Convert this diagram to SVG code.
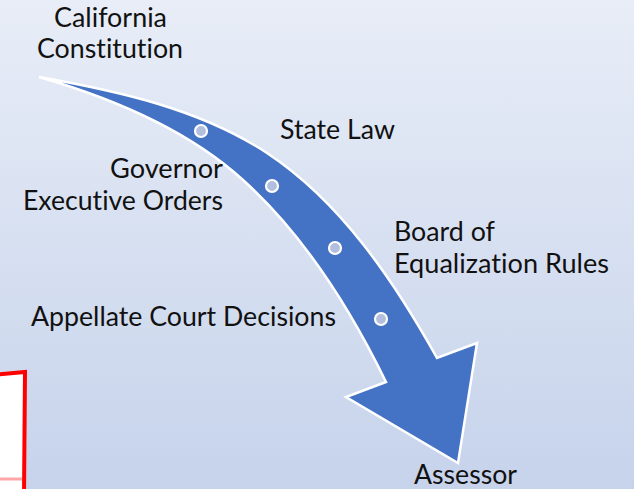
<svg xmlns="http://www.w3.org/2000/svg" width="634" height="489" viewBox="0 0 634 489">
  <defs>
    <linearGradient id="bg" x1="0" y1="0" x2="0" y2="1">
      <stop offset="0" stop-color="#e8edf7"/>
      <stop offset="1" stop-color="#c6d3eb"/>
    </linearGradient>
    <style>
      .lbl { font-family: Lato, "Open Sans", "Liberation Sans", sans-serif; font-size: 27px; fill: #111; font-variant-ligatures: none; font-feature-settings: "liga" 0; }
      .dot { fill: #b3bfdf; stroke: #ffffff; stroke-width: 2.2; }
      .arrow { fill: #4472c4; stroke: #ffffff; stroke-width: 2.5; stroke-linejoin: miter; }
    </style>
  </defs>
  <rect x="0" y="0" width="634" height="489" fill="url(#bg)"/>

  <g id="redbox">
    <polygon points="-10,375 25,372 24,495 -10,495" fill="#ffffff" stroke="#ff0000" stroke-width="4"/>
    <line x1="0" y1="479" x2="22" y2="479" stroke="#ff0000" stroke-opacity="0.35" stroke-width="3"/>
  </g>

  <g id="connectors">
    <path class="arrow" d="M39,77 C118,91 200,109 267,153 C341,202 394,281 437,358 L477,343 L458,463 L346,397 L386,382 C350,308 304,235 243,180 C187,129 112,98 39,77 Z"/>
    <circle class="dot" cx="201" cy="131" r="6"/>
    <circle class="dot" cx="272" cy="186" r="6"/>
    <circle class="dot" cx="335" cy="248" r="6"/>
    <circle class="dot" cx="381" cy="319" r="6"/>
  </g>

  <g id="california-constitution">
    <text class="lbl" x="54" y="27" textLength="113" lengthAdjust="spacingAndGlyphs">California</text>
    <text class="lbl" x="37" y="58" textLength="146" lengthAdjust="spacingAndGlyphs">Constitution</text>
  </g>
  <g id="state-law">
    <text class="lbl" x="280" y="139" textLength="115" lengthAdjust="spacingAndGlyphs">State Law</text>
  </g>
  <g id="governor-executive-orders">
    <text class="lbl" x="110" y="178" textLength="113" lengthAdjust="spacingAndGlyphs">Governor</text>
    <text class="lbl" x="23" y="210" textLength="200" lengthAdjust="spacingAndGlyphs">Executive Orders</text>
  </g>
  <g id="board-of-equalization-rules">
    <text class="lbl" x="394" y="241" textLength="101" lengthAdjust="spacingAndGlyphs">Board of</text>
    <text class="lbl" x="394" y="273" textLength="215" lengthAdjust="spacingAndGlyphs">Equalization Rules</text>
  </g>
  <g id="appellate-court-decisions">
    <text class="lbl" x="31" y="326" textLength="305" lengthAdjust="spacingAndGlyphs">Appellate Court Decisions</text>
  </g>
  <g id="assessor">
    <text class="lbl" x="414" y="484" textLength="103" lengthAdjust="spacingAndGlyphs">Assessor</text>
  </g>
</svg>
